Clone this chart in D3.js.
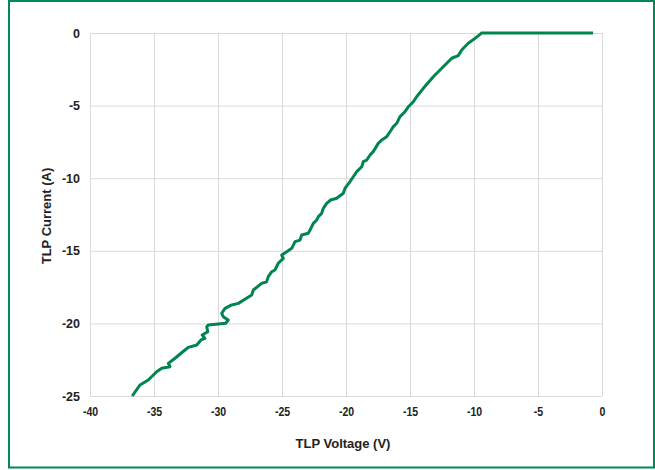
<!DOCTYPE html>
<html>
<head>
<meta charset="utf-8">
<script src="https://cdn.jsdelivr.net/npm/d3@7"></script>
<style>
  body { margin: 0; background: #fff; }
  svg { display: block; font-family: "Liberation Sans", Arial, sans-serif; }
</style>
</head>
<body>
<div id="chart"></div>
<script>
// TLP voltage (V) and current (A)
const voltage = [-36.70, -36.09, -35.45, -34.79, -34.40, -33.75, -33.88, -33.36, -32.58, -32.32,
  -31.66, -31.33, -31.02, -31.23, -30.80, -30.88, -30.76, -29.98, -29.40, -29.20,
  -29.59, -29.71, -29.45, -28.93, -28.41, -28.02, -27.37, -27.24, -26.59, -26.20,
  -26.07, -25.80, -25.55, -25.29, -24.90, -25.02, -24.63, -24.24, -23.98, -23.59,
  -23.46, -22.95, -22.81, -22.55, -22.29, -22.16, -21.90, -21.77, -21.51, -21.20,
  -20.73, -20.21, -20.08, -19.69, -19.43, -19.16, -18.77, -18.65, -18.38, -18.12,
  -17.87, -17.48, -17.21, -16.82, -16.56, -16.30, -16.04, -15.78, -15.39, -15.13,
  -14.74, -14.48, -13.96, -13.18, -12.40, -11.74, -11.23, -10.96, -10.45, -9.92,
  -9.53, -9.40, -0.70];
const current = [-25.00, -24.24, -23.90, -23.33, -23.09, -22.98, -22.75, -22.40, -21.83, -21.65,
  -21.49, -21.14, -21.03, -20.80, -20.57, -20.23, -20.11, -20.04, -19.99, -19.77,
  -19.54, -19.30, -18.96, -18.73, -18.62, -18.40, -18.04, -17.70, -17.24, -17.13,
  -16.78, -16.44, -16.32, -15.86, -15.52, -15.29, -15.06, -14.83, -14.37, -14.26,
  -13.91, -13.79, -13.57, -13.11, -12.88, -12.65, -12.42, -12.07, -11.73, -11.50,
  -11.38, -11.04, -10.70, -10.24, -9.90, -9.55, -9.21, -8.86, -8.75, -8.40,
  -8.17, -7.60, -7.37, -7.14, -6.80, -6.45, -6.22, -5.76, -5.42, -5.08,
  -4.73, -4.39, -3.81, -3.01, -2.32, -1.74, -1.56, -1.17, -0.71, -0.37,
  -0.09, 0, 0];
const xTicks = [-40, -35, -30, -25, -20, -15, -10, -5, 0];
const yTicks = [0, -5, -10, -15, -20, -25];

const W = 655, H = 470;
const margin = { top: 33, right: 53, bottom: 74, left: 90 };
const width = W - margin.left - margin.right,
      height = H - margin.top - margin.bottom;

const svg = d3.select("#chart").append("svg")
    .attr("width", W)
    .attr("height", H);

// green frame
svg.append("rect")
    .attr("x", 9).attr("y", 1)
    .attr("width", 645).attr("height", 466.5)
    .attr("fill", "none")
    .attr("stroke", "#00875a")
    .attr("stroke-width", 2);

const g = svg.append("g")
    .attr("transform", `translate(${margin.left},${margin.top})`);

const x = d3.scaleLinear().domain([-40, 0]).range([0, width]);
const y = d3.scaleLinear().domain([-25, 0]).range([height, 0]);

// plain hyphen for negatives, like the original
const fmt = d => String(d);

// grid lines
g.append("g")
    .attr("transform", `translate(0,${height})`)
    .call(d3.axisBottom(x).tickValues(xTicks).tickSize(-height).tickFormat(""))
    .call(a => a.select(".domain").remove())
    .selectAll("line").attr("stroke", "#d9d9d9");

g.append("g")
    .call(d3.axisLeft(y).tickValues(yTicks).tickSize(-width).tickFormat(""))
    .call(a => a.select(".domain").remove())
    .selectAll("line").attr("stroke", "#d9d9d9");

// tick labels
const xAxis = g.append("g")
    .attr("transform", `translate(0,${height})`)
    .call(d3.axisBottom(x).tickValues(xTicks).tickSize(0).tickPadding(11).tickFormat(fmt));
xAxis.select(".domain").remove();
xAxis.selectAll("text")
    .attr("font-size", 12)
    .attr("font-weight", "bold")
    .attr("fill", "#222")
    .attr("transform", "scale(0.88,1)")
    .attr("font-family", "Liberation Sans, Arial, sans-serif");

const yAxis = g.append("g")
    .call(d3.axisLeft(y).tickValues(yTicks).tickSize(0).tickPadding(10).tickFormat(fmt));
yAxis.select(".domain").remove();
yAxis.selectAll("text")
    .attr("font-size", 12.5)
    .attr("font-weight", "bold")
    .attr("fill", "#222")
    .attr("font-family", "Liberation Sans, Arial, sans-serif");

// the curve
const pts = voltage.map((v, i) => [v, current[i]]);
g.append("path")
    .datum(pts)
    .attr("fill", "none")
    .attr("stroke", "#00854f")
    .attr("stroke-width", 3)
    .attr("stroke-linejoin", "round")
    .attr("d", d3.line().x(d => x(d[0])).y(d => y(d[1])));

// axis titles
svg.append("text")
    .attr("x", 343)
    .attr("y", 448)
    .attr("text-anchor", "middle")
    .attr("font-size", 13)
    .attr("font-weight", "bold")
    .attr("fill", "#222")
    .text("TLP Voltage (V)");

svg.append("text")
    .attr("transform", "rotate(-90)")
    .attr("x", -216)
    .attr("y", 51)
    .attr("text-anchor", "middle")
    .attr("font-size", 13)
    .attr("font-weight", "bold")
    .attr("fill", "#222")
    .text("TLP Current (A)");
</script>
</body>
</html>
